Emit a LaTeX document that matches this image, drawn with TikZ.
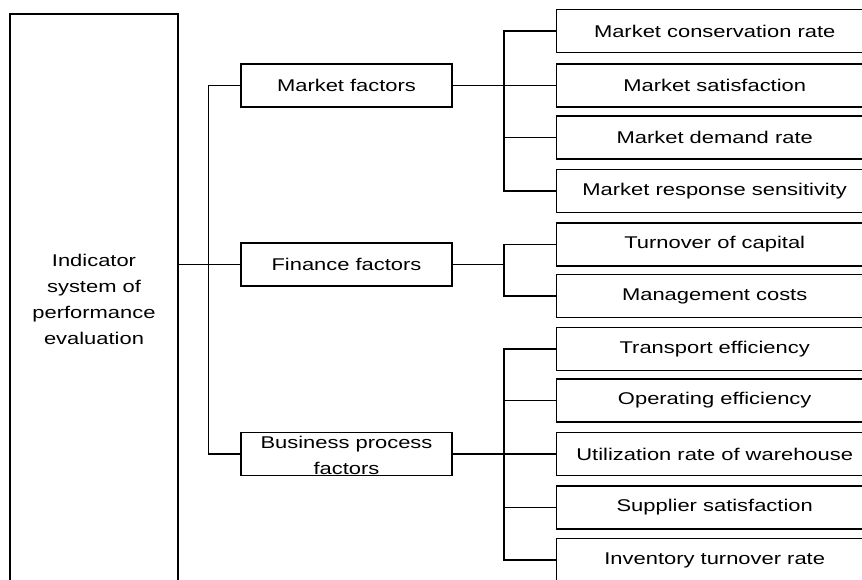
\documentclass[tikz,border=0pt]{standalone}
\usepackage{fontspec}
\setmainfont{Liberation Sans}[FakeStretch=1.29]
\begin{document}
\begin{tikzpicture}[x=1pt, y=-1pt, line width=1.4pt,
  every node/.style={font=\fontsize{17}{26}\selectfont},
  rootbox/.style={draw, minimum width=168pt, minimum height=570pt, align=center, inner sep=0pt},
  catbox/.style={draw, minimum width=211pt, minimum height=43pt, inner sep=0pt},
  leafbox/.style={draw, anchor=west, minimum width=316pt, minimum height=43pt, inner sep=0pt}]
  \path[use as bounding box, clip] (0, 0) rectangle (862, 579);

  \node[rootbox] (root) at (94, 299) {Indicator\\system of\\performance\\evaluation};

  \node[catbox] (mkt) at (346.5, 85.5) {Market factors};
  \node[catbox] (fin) at (346.5, 264.5) {Finance factors};
  \node[catbox] (bus) at (346.5, 454) {};
  \node[align=center, inner sep=0pt] (busL) at (346.5, 455.5) {Business process\\factors};

  \node[leafbox] (M1) at (556, 31) {Market conservation rate};
  \node[leafbox] (M2) at (556, 85.5) {Market satisfaction};
  \node[leafbox] (M3) at (556, 137.5) {Market demand rate};
  \node[leafbox] (M4) at (556, 191) {Market response sensitivity};

  \node[leafbox] (F1) at (556, 244.5) {Turnover of capital};
  \node[leafbox] (F2) at (556, 296) {Management costs};

  \node[leafbox] (B1) at (556, 349) {Transport efficiency};
  \node[leafbox] (B2) at (556, 400.5) {Operating efficiency};
  \node[leafbox] (B3) at (556, 454) {Utilization rate of warehouse};
  \node[leafbox] (B4) at (556, 507.5) {Supplier satisfaction};
  \node[leafbox] (B5) at (556, 560) {Inventory turnover rate};

  \draw (fin.west) -- (fin.west -| root.east);
  \draw (mkt.west) -- ++(-32, 0) |- (bus.west);

  \draw (mkt.east) -- (M2.west);
  \draw (M1.west) -- ++(-52, 0) |- (M4.west);
  \draw (M3.west) -- ++(-52, 0);

  \coordinate (finJ) at (504, 264.5);
  \draw (fin.east) -- (finJ);
  \draw (F1.west) -- ++(-52, 0) |- (F2.west);

  \draw (bus.east) -- (B3.west);
  \draw (B1.west) -- ++(-52, 0) |- (B5.west);
  \draw (B2.west) -- ++(-52, 0);
  \draw (B4.west) -- ++(-52, 0);
\end{tikzpicture}
\end{document}
